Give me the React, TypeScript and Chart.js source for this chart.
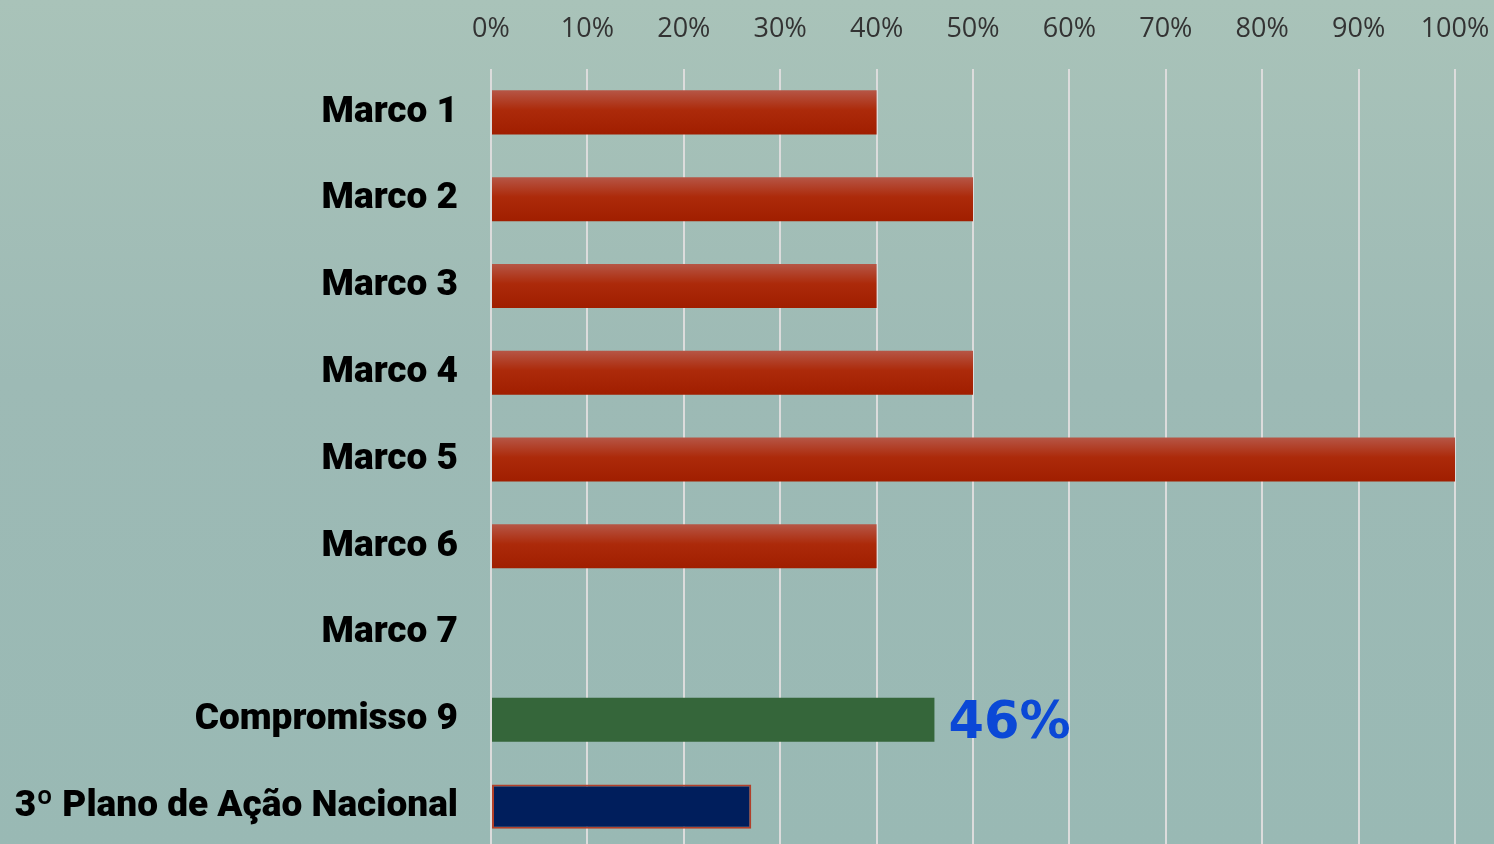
import React, { useEffect, useRef } from "react";
import { Chart, registerables } from "chart.js";

Chart.register(...registerables);

const categories = [
  "Marco 1",
  "Marco 2",
  "Marco 3",
  "Marco 4",
  "Marco 5",
  "Marco 6",
  "Marco 7",
  "Compromisso 9",
  "3º Plano de Ação Nacional",
];
const values = [40, 50, 40, 50, 100, 40, 0, 46, 27];
const highlightLabel = "46%";
const highlightIndex = 7;
const xTicks = [0, 10, 20, 30, 40, 50, 60, 70, 80, 90, 100];

const BAR_H = 44;

export default function App() {
  const ref = useRef<HTMLCanvasElement>(null);

  useEffect(() => {
    document.body.style.margin = "0";
    document.body.style.overflow = "hidden";
    const canvas = ref.current!;

    const redGradient = (ctx: any) => {
      const chart = ctx.chart;
      const y = chart.scales && chart.scales.y;
      if (!y) return "#a82808";
      const yc = y.getPixelForValue(ctx.dataIndex);
      if (!isFinite(yc)) return "#a82808";
      const g = chart.ctx.createLinearGradient(0, yc - BAR_H / 2, 0, yc + BAR_H / 2);
      g.addColorStop(0, "#b65646");
      g.addColorStop(0.45, "#ac2a0a");
      g.addColorStop(1, "#a01e00");
      return g;
    };

    const labelPlugin = {
      id: "valueLabel",
      afterDatasetsDraw(chart: any) {
        const meta = chart.getDatasetMeta(0);
        const el = meta.data[highlightIndex];
        if (!el) return;
        const c = chart.ctx;
        c.save();
        c.font = "bold 51px 'DejaVu Sans', sans-serif";
        c.fillStyle = "#0b48d6";
        c.textAlign = "left";
        c.textBaseline = "middle";
        c.fillText(highlightLabel, el.x + 14, el.y + 5);
        c.restore();
      },
    };

    const chart = new Chart(canvas, {
      type: "bar",
      data: {
        labels: categories,
        datasets: [
          {
            data: values,
            backgroundColor: (ctx: any) => {
              const i = ctx.dataIndex;
              if (i === highlightIndex) return "#35663a";
              if (i === categories.length - 1) return "#001e5c";
              return redGradient(ctx);
            },
            borderColor: "#b2402a",
            borderWidth: values.map((_, i) => (i === categories.length - 1 ? 2 : 0)),
            borderSkipped: false,
            barPercentage: BAR_H / 86.7,
            categoryPercentage: 1,
          },
        ],
      },
      options: {
        indexAxis: "y",
        responsive: false,
        animation: false,
        devicePixelRatio: 1,
        layout: { padding: { left: 0, right: 39, top: 0, bottom: 0 } },
        plugins: {
          legend: { display: false },
          tooltip: { enabled: false },
        },
        scales: {
          x: {
            position: "top",
            min: 0,
            max: 100,
            afterBuildTicks: (s: any) => {
              s.ticks = xTicks.map((v) => ({ value: v }));
            },
            afterFit: (s: any) => {
              s.height = 69;
              s.paddingLeft = 0;
              s.paddingRight = 0;
            },
            ticks: {
              callback: (v: any) => v + "%",
              color: "#333333",
              font: { family: "'Open Sans', sans-serif", size: 27 },
              padding: 23,
            },
            grid: { color: "#dcdcdc", lineWidth: 2, drawTicks: false },
            border: { display: false },
          },
          y: {
            afterFit: (s: any) => {
              s.width = 491;
              s.paddingTop = 0;
              s.paddingBottom = 0;
            },
            ticks: {
              color: "#000000",
              font: { family: "Roboto, sans-serif", size: 37, weight: "900" },
              padding: 33,
            },
            grid: { display: false, drawTicks: false },
            border: { display: false },
          },
        },
      },
      plugins: [labelPlugin],
    } as any);

    return () => chart.destroy();
  }, []);

  return (
    <div
      style={{
        width: 1494,
        height: 850,
        background: "linear-gradient(to bottom, #a9c3b9 0%, #9dbab5 45%, #99b9b4 100%)",
      }}
    >
      <canvas ref={ref} width={1494} height={850} style={{ display: "block" }} />
    </div>
  );
}
